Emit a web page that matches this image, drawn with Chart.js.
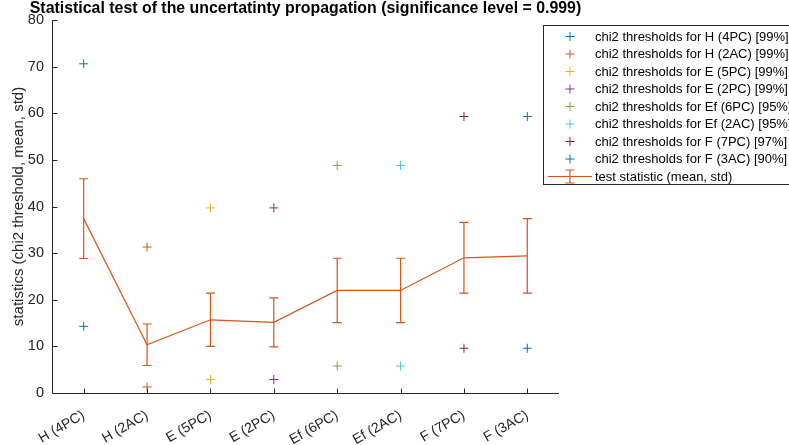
<!DOCTYPE html>
<html>
<head>
<meta charset="utf-8">
<script src="https://cdn.jsdelivr.net/npm/chart.js@4.4.1/dist/chart.umd.min.js"></script>
<style>
  html, body { margin: 0; padding: 0; background: #ffffff; }
  #wrap { position: relative; width: 789px; height: 445px; }
</style>
</head>
<body>
<div id="wrap"><canvas id="c" width="789" height="445"></canvas></div>
<script>
// Model / configuration names along the x axis
const categories = ['H (4PC)', 'H (2AC)', 'E (5PC)', 'E (2PC)', 'Ef (6PC)', 'Ef (2AC)', 'F (7PC)', 'F (3AC)'];
// Confidence level of each chi2 interval
const confidenceLevels = ['99%', '99%', '99%', '99%', '95%', '95%', '97%', '90%'];
// Upper and lower chi2 thresholds per configuration
const upperThreshold = [70.6, 31.3, 39.7, 39.7, 48.8, 48.8, 59.3, 59.3];
const lowerThreshold = [14.3, 1.3, 2.9, 2.9, 5.8, 5.8, 9.6, 9.6];
// Test statistic: mean and standard deviation
const statMean = [37.4, 10.35, 15.7, 15.15, 22.0, 22.0, 29.0, 29.4];
const statStd = [8.55, 4.45, 5.7, 5.25, 6.9, 6.9, 7.6, 8.0];
// Y axis ticks
const yTicks = [0, 10, 20, 30, 40, 50, 60, 70, 80];

const FONT = '"Liberation Sans", Arial, Helvetica, sans-serif';
const AXIS_COLOR = '#262626';
const palette = ['#0072BD', '#D95319', '#EDB120', '#7E2F8E', '#77AC30', '#4DBEEE', '#A2142F', '#0072BD'];
const statColor = '#D95319';

const thresholdSets = categories.map((cat, i) => ({
  type: 'line',
  label: 'chi2 thresholds for ' + cat + ' [' + confidenceLevels[i] + ']',
  data: [{ x: cat, y: upperThreshold[i] }, { x: cat, y: lowerThreshold[i] }],
  showLine: false,
  borderColor: palette[i],
  backgroundColor: palette[i],
  pointStyle: 'cross',
  pointRadius: 4.5,
  pointBorderWidth: 1,
  pointHoverRadius: 4.5
}));

const statSet = {
  type: 'line',
  label: 'test statistic (mean, std)',
  data: statMean,
  borderColor: statColor,
  backgroundColor: statColor,
  borderWidth: 1.2,
  pointRadius: 0,
  tension: 0,
  isStat: true
};

function capBar(ctx, x, yTop, yBot, half) {
  ctx.beginPath();
  ctx.moveTo(x, yTop); ctx.lineTo(x, yBot);
  ctx.moveTo(x - half, yTop); ctx.lineTo(x + half, yTop);
  ctx.moveTo(x - half, yBot); ctx.lineTo(x + half, yBot);
  ctx.stroke();
}

// Error bars of the test statistic, axes with inward ticks, title and the boxed legend
const decorations = {
  id: 'decorations',
  afterDatasetsDraw(chart) {
    const ctx = chart.ctx;
    const xs = chart.scales.x, ys = chart.scales.y;
    ctx.save();
    ctx.strokeStyle = statColor;
    ctx.lineWidth = 1.2;
    statMean.forEach((m, i) => {
      const x = xs.getPixelForValue(i);
      capBar(ctx, x, ys.getPixelForValue(m + statStd[i]), ys.getPixelForValue(m - statStd[i]), 4.5);
    });
    ctx.restore();
  },
  afterDraw(chart) {
    const ctx = chart.ctx;
    const a = chart.chartArea;
    const xs = chart.scales.x, ys = chart.scales.y;
    ctx.save();
    // axis lines
    ctx.strokeStyle = AXIS_COLOR;
    ctx.lineWidth = 1;
    const L = Math.round(a.left) + 0.5, B = Math.round(a.bottom) + 0.5;
    ctx.beginPath();
    ctx.moveTo(L, Math.round(a.top));
    ctx.lineTo(L, B);
    ctx.lineTo(Math.round(a.right), B);
    ctx.stroke();
    // inward ticks
    ctx.beginPath();
    categories.forEach((c, i) => {
      const x = Math.round(xs.getPixelForValue(i)) + 0.5;
      ctx.moveTo(x, B); ctx.lineTo(x, B - 5);
    });
    yTicks.forEach(v => {
      const y = Math.round(ys.getPixelForValue(v)) + 0.5;
      ctx.moveTo(L, y); ctx.lineTo(L + 5, y);
    });
    ctx.stroke();

    // title, centred over the axes
    ctx.fillStyle = '#000000';
    ctx.font = 'bold 15.9px ' + FONT;
    ctx.textAlign = 'center';
    ctx.textBaseline = 'alphabetic';
    ctx.fillText('Statistical test of the uncertatinty propagation (significance level = 0.999)', (a.left + a.right) / 2, 13);

    // legend box
    const lx = 543.5, ly = 25.5, lw = 260, lh = 159;
    ctx.fillStyle = '#ffffff';
    ctx.fillRect(lx, ly, lw, lh);
    ctx.strokeStyle = '#262626';
    ctx.lineWidth = 1;
    ctx.strokeRect(lx, ly, lw, lh);
    ctx.font = '13px ' + FONT;
    ctx.textAlign = 'left';
    ctx.textBaseline = 'middle';
    const rowH = 17.5, y0 = 36.5, mx = 570, tx = 595;
    chart.data.datasets.forEach((ds, i) => {
      const y = y0 + i * rowH;
      ctx.strokeStyle = ds.borderColor;
      if (ds.isStat) {
        ctx.lineWidth = 1.2;
        ctx.beginPath();
        ctx.moveTo(548, y); ctx.lineTo(592, y);
        ctx.stroke();
        capBar(ctx, mx, y - 6.5, y + 6.5, 4.5);
      } else {
        ctx.lineWidth = 1;
        ctx.beginPath();
        ctx.moveTo(mx - 4.5, y); ctx.lineTo(mx + 4.5, y);
        ctx.moveTo(mx, y - 4.5); ctx.lineTo(mx, y + 4.5);
        ctx.stroke();
      }
      ctx.fillStyle = '#000000';
      ctx.fillText(ds.label, tx, y + 0.5);
    });
    ctx.restore();
  }
};

new Chart(document.getElementById('c'), {
  type: 'line',
  data: {
    labels: categories,
    datasets: [...thresholdSets, statSet]
  },
  options: {
    responsive: false,
    animation: false,
    events: [],
    layout: { padding: { top: 20, right: 230, left: 10, bottom: 0 } },
    plugins: {
      legend: { display: false },
      title: { display: false },
      tooltip: { enabled: false }
    },
    scales: {
      x: {
        type: 'category',
        offset: true,
        grid: { display: false, drawTicks: false },
        border: { display: false },
        ticks: {
          color: AXIS_COLOR,
          font: { family: FONT, size: 14 },
          maxRotation: 30,
          minRotation: 30,
          autoSkip: false,
          padding: 14
        },
        afterFit(s) { s.height = 52; }
      },
      y: {
        min: 0,
        max: 80,
        grid: { display: false, drawTicks: false },
        border: { display: false },
        ticks: {
          stepSize: 10,
          color: AXIS_COLOR,
          font: { family: FONT, size: 14.5 },
          padding: 8
        },
        title: {
          display: true,
          text: 'statistics (chi2 threshold, mean, std)',
          color: AXIS_COLOR,
          font: { family: FONT, size: 15 },
          padding: { top: 0, bottom: 2 }
        },
        afterFit(s) { s.width = 42; }
      }
    }
  },
  plugins: [decorations]
});
</script>
</body>
</html>
